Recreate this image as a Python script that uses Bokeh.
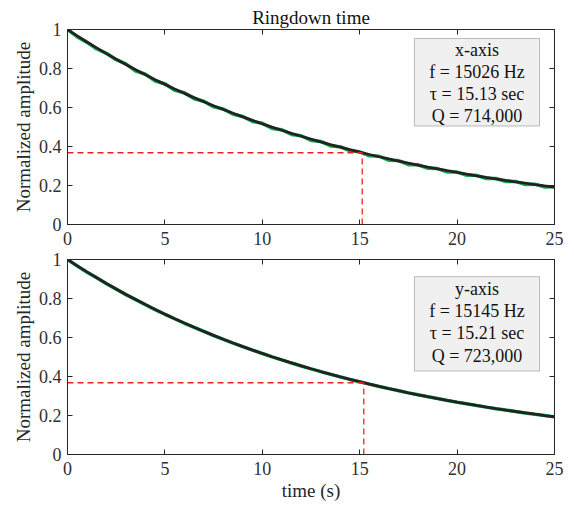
from bokeh.plotting import figure
from bokeh.models import LinearAxis, FixedTicker, Label, BoxAnnotation
from bokeh.layouts import column
from bokeh.embed import file_html
from bokeh.resources import INLINE

# ---- data ----
time_s = [0, 0.5, 1, 1.5, 2, 2.5, 3, 3.5, 4, 4.5, 5, 5.5, 6, 6.5, 7, 7.5, 8, 8.5, 9, 9.5,
          10, 10.5, 11, 11.5, 12, 12.5, 13, 13.5, 14, 14.5, 15, 15.5, 16, 16.5, 17, 17.5,
          18, 18.5, 19, 19.5, 20, 20.5, 21, 21.5, 22, 22.5, 23, 23.5, 24, 24.5, 25]

x_meas = [1.000, 0.962, 0.934, 0.900, 0.878, 0.845, 0.824, 0.787, 0.771, 0.736, 0.722,
          0.688, 0.676, 0.645, 0.632, 0.603, 0.592, 0.565, 0.554, 0.528, 0.519, 0.492,
          0.486, 0.462, 0.455, 0.431, 0.426, 0.403, 0.399, 0.378, 0.373, 0.352, 0.350,
          0.329, 0.328, 0.307, 0.306, 0.288, 0.287, 0.269, 0.269, 0.252, 0.252, 0.236,
          0.236, 0.220, 0.221, 0.205, 0.207, 0.192, 0.193]
x_fit = [1.0000, 0.9675, 0.9360, 0.9056, 0.8762, 0.8477, 0.8201, 0.7935, 0.7677, 0.7427,
         0.7186, 0.6952, 0.6726, 0.6508, 0.6296, 0.6092, 0.5894, 0.5702, 0.5517, 0.5338,
         0.5164, 0.4996, 0.4834, 0.4677, 0.4525, 0.4378, 0.4235, 0.4098, 0.3964, 0.3836,
         0.3711, 0.3590, 0.3474, 0.3361, 0.3252, 0.3146, 0.3044, 0.2945, 0.2849, 0.2757,
         0.2667, 0.2580, 0.2497, 0.2415, 0.2337, 0.2261, 0.2188, 0.2117, 0.2048, 0.1981,
         0.1917]

y_meas = [1.000, 0.967, 0.935, 0.906, 0.876, 0.848, 0.820, 0.794, 0.768, 0.743, 0.719,
          0.696, 0.673, 0.652, 0.631, 0.610, 0.590, 0.571, 0.553, 0.535, 0.518, 0.501,
          0.485, 0.469, 0.454, 0.439, 0.425, 0.411, 0.398, 0.385, 0.373, 0.361, 0.349,
          0.338, 0.327, 0.316, 0.306, 0.296, 0.287, 0.277, 0.268, 0.260, 0.251, 0.243,
          0.235, 0.228, 0.220, 0.213, 0.206, 0.200, 0.193]
y_fit = [1.0000, 0.9676, 0.9364, 0.9061, 0.8768, 0.8484, 0.8210, 0.7944, 0.7687, 0.7439,
         0.7198, 0.6966, 0.6740, 0.6522, 0.6312, 0.6107, 0.5910, 0.5719, 0.5534, 0.5355,
         0.5182, 0.5015, 0.4852, 0.4696, 0.4544, 0.4397, 0.4255, 0.4117, 0.3984, 0.3855,
         0.3731, 0.3610, 0.3493, 0.3380, 0.3271, 0.3165, 0.3063, 0.2964, 0.2868, 0.2775,
         0.2686, 0.2599, 0.2515, 0.2433, 0.2355, 0.2279, 0.2205, 0.2134, 0.2065, 0.1998,
         0.1933]

tau_x = 15.13
tau_y = 15.21
amp_1e = 0.368

x_text = ["x-axis", "f = 15026 Hz", "\u03c4 = 15.13 sec", "Q = 714,000"]
y_text = ["y-axis", "f = 15145 Hz", "\u03c4 = 15.21 sec", "Q = 723,000"]

x_ticks = [0, 5, 10, 15, 20, 25]
y_ticks = [0, 0.2, 0.4, 0.6, 0.8, 1]
y_tick_labels = {0: "0", 0.2: "0.2", 0.4: "0.4", 0.6: "0.6", 0.8: "0.8", 1: "1"}

FONT = "Liberation Serif"
AX = "#262626"
GREEN = "#10b050"
RED = "#ee2222"


def style_axis(ax, labels=True, ticks=None, standoff=5):
    ax.axis_line_color = AX
    ax.major_tick_line_color = AX
    ax.minor_tick_line_color = None
    ax.major_tick_in = 5
    ax.major_tick_out = 0
    ax.major_label_text_font = FONT
    ax.major_label_text_color = "#303030"
    ax.axis_label_text_font = FONT
    ax.axis_label_text_font_style = "normal"
    ax.axis_label_text_color = AX
    ax.axis_label_text_font_size = "19px"
    ax.major_label_text_font_size = "18px"
    if labels:
        ax.major_label_standoff = standoff
    else:
        ax.major_label_overrides = {t: "" for t in ticks}
        ax.major_label_standoff = 0


def make_fig(meas, fit, tau, lines, box, line_ys, top_border, bottom_border, title=None, xlabel=None):
    p = figure(width=564, height=top_border + 195 + bottom_border,
               frame_width=487, frame_height=195,
               x_range=(0, 25), y_range=(0, 1),
               output_backend="svg", toolbar_location=None,
               min_border_left=67, min_border_right=10,
               min_border_top=top_border, min_border_bottom=bottom_border,
               title=title)
    p.grid.visible = False
    p.outline_line_color = AX
    p.background_fill_color = "white"
    p.border_fill_color = "white"
    if title:
        p.title.text_font = FONT
        p.title.text_font_style = "normal"
        p.title.text_font_size = "19px"
        p.title.text_color = "#111111"
        p.title.align = "center"
        p.title.standoff = 4

    p.xaxis.ticker = FixedTicker(ticks=x_ticks)
    p.yaxis.ticker = FixedTicker(ticks=y_ticks)
    p.yaxis.major_label_overrides = y_tick_labels
    style_axis(p.xaxis[0], standoff=7)
    style_axis(p.yaxis[0], standoff=6)
    p.yaxis.axis_label = "Normalized amplitude"
    p.yaxis.axis_label_standoff = 2
    if xlabel:
        p.xaxis.axis_label = xlabel
        p.xaxis.axis_label_standoff = 2

    ra = LinearAxis(ticker=FixedTicker(ticks=y_ticks))
    style_axis(ra, labels=False, ticks=y_ticks)
    p.add_layout(ra, "right")
    ta = LinearAxis(ticker=FixedTicker(ticks=x_ticks))
    style_axis(ta, labels=False, ticks=x_ticks)
    p.add_layout(ta, "above")

    p.line(time_s, meas, line_color=GREEN, line_width=3.5)
    p.line(time_s, fit, line_color="#222222", line_width=2.8)
    p.line([0, tau], [amp_1e, amp_1e], line_color=RED, line_width=1.3, line_dash="6 4")
    p.line([tau, tau], [0, amp_1e], line_color=RED, line_width=1.3, line_dash="6 4")

    left, right, top, bottom = box
    p.add_layout(BoxAnnotation(left=left, right=right, top=top, bottom=bottom,
                               fill_color="#f0f0f0", fill_alpha=1.0,
                               line_color="#303030", line_width=1))
    cx = (left + right) / 2
    for txt, yy in zip(lines, line_ys):
        p.add_layout(Label(x=cx, y=yy, text=txt, text_align="center",
                           text_baseline="middle", text_font=FONT,
                           text_font_size="18px", text_color="#111111"))
    return p


p1 = make_fig(x_meas, x_fit, tau_x, x_text, (17.81, 24.23, 0.954, 0.505),
              [0.893, 0.781, 0.668, 0.556], 29, 25, title="Ringdown time")
p2 = make_fig(y_meas, y_fit, tau_y, y_text, (17.81, 24.23, 0.912, 0.428),
              [0.851, 0.737, 0.624, 0.505], 10, 48, xlabel="time (s)")

layout = column(p1, p2, spacing=0)
open("out.html", "w").write(file_html(layout, INLINE))
